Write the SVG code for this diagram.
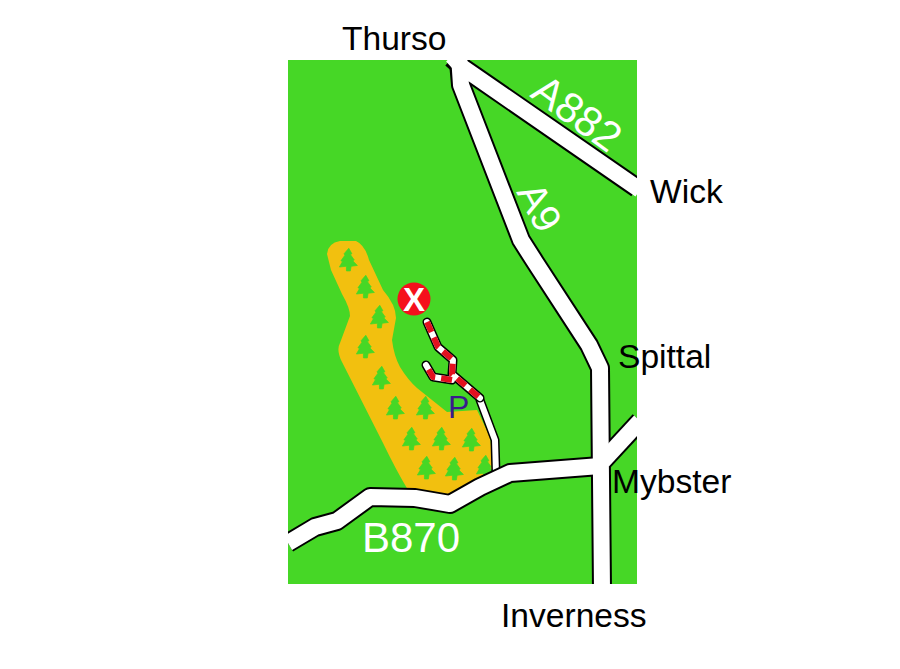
<svg xmlns="http://www.w3.org/2000/svg" width="900" height="669" viewBox="0 0 900 669">
<style>
text{font-family:"Liberation Sans",Arial,sans-serif;font-size:33.6px;fill:#000}
.w{fill:#fff}
.rb,.rw,.tb,.tw,.td{fill:none;stroke-linejoin:round}
.rb{stroke:#000;stroke-width:20}
.rw{stroke:#fff;stroke-width:16}
.tb{stroke:#000;stroke-width:9;stroke-linecap:round}
.tw{stroke:#fff;stroke-width:6;stroke-linecap:round}
.td{stroke:#e3101f;stroke-width:6;stroke-dasharray:11 6}
</style>
<defs>
<clipPath id="map"><rect x="288" y="60" width="349" height="524"/></clipPath>
<g id="tree"><path transform="scale(.78)" d="M1-15L5-8 3-7 8 0 6 1 12 7 4 8 3 14-2 14-2 8-11 9-7 2-9 1-4-6-5-8Z" fill="#46d726" stroke="#46d726" stroke-linejoin="round"/></g>
</defs>
<rect x="0" y="0" width="900" height="669" fill="#fff"/>
<rect x="288" y="60" width="349" height="524" fill="#46d726"/>
<g id="forest">
<path d="M327 254Q328 243 340 241L356 241Q365 245 369 260L383 290Q396 305 396 318L392 340Q394 356 400 367 408 380 417 388L447 412 477 410 490 437 494 473 450 498 408 490Q396 470 383 443L342 362Q336 350 340 343L350 316Q350 308 342 294L331 270Z" fill="#f2c00f"/>
<use href="#tree" x="348" y="260"/><use href="#tree" x="365" y="287"/><use href="#tree" x="379" y="317"/><use href="#tree" x="365" y="347"/><use href="#tree" x="381" y="378"/><use href="#tree" x="395" y="408"/><use href="#tree" x="425" y="408"/><use href="#tree" x="411" y="439"/><use href="#tree" x="441" y="439"/><use href="#tree" x="471" y="440"/><use href="#tree" x="426" y="468"/><use href="#tree" x="454" y="469"/><use href="#tree" x="485" y="467"/>
</g>
<g id="connectors" clip-path="url(#map)">
<g id="track">
<path class="tb" d="M480 400L495 440 496 474"/><path class="tw" d="M480 400L495 440 496 474"/>
<path class="tb" d="M427 322L438 347 453 360 452 374 480 398"/>
<path class="tb" d="M452 380L433 377 426 365"/>
<path class="tw" d="M427 322L438 347 453 360 452 374 480 398"/>
<path class="tw" d="M452 380L433 377 426 365"/>
<path class="td" d="M427 322L438 347 453 360 452 374 480 398"/>
<path class="td" d="M452 380L433 377 426 365"/>
</g>
<path class="rb" d="M288 543L315 527 337 521 370 497 415 498 450 504 480 487 510 473 600 466"/>
<path class="rb" d="M603 461L640 421"/>
<path class="rb" d="M452 58L462 67 637 188"/>
<path class="rb" d="M459 62L461 85 521 240 535 262 589 345 600 368 602 590"/>
<path class="rw" d="M288 543L315 527 337 521 370 497 415 498 450 504 480 487 510 473 600 466"/>
<path class="rw" d="M603 461L640 421"/>
<path class="rw" d="M452 56L462 67 640 190"/>
<path class="rw" d="M459 56L461 85 521 240 535 262 589 345 600 368 602 590"/>
</g>
<g id="marker"><circle cx="414" cy="299" r="16.500" fill="#f5101c"/><text class="w" x="414" y="311" text-anchor="middle" style="font-weight:bold;font-size:33px">X</text></g>
<text x="448" y="418" style="fill:#3a1a8c;font-size:32px">P</text>
<text class="w" transform="translate(529 96) rotate(36)" style="font-size:42px">A882</text>
<text class="w" transform="translate(516 192) rotate(62)" style="font-size:40px">A9</text>
<text class="w" x="362" y="552" style="font-size:42px">B870</text>
<text x="342" y="50">Thurso</text>
<text x="650" y="203">Wick</text>
<text x="618" y="368">Spittal</text>
<text x="612" y="493">Mybster</text>
<text x="501" y="627">Inverness</text>
</svg>
